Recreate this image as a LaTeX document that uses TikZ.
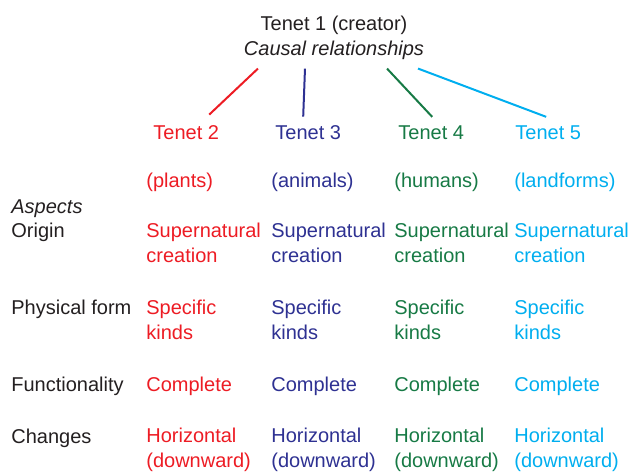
\documentclass[tikz,border=0pt]{standalone}
\usepackage{fontspec}
\setmainfont{Liberation Sans}
\usetikzlibrary{calc}
\definecolor{ink}{HTML}{231F20}
\definecolor{tred}{HTML}{ED1C24}
\definecolor{tblue}{HTML}{2E3192}
\definecolor{tgreen}{HTML}{177A45}
\definecolor{tcyan}{HTML}{00AEEF}
\tikzset{
  txt/.style={inner sep=0pt,align=left,anchor=base west,text=ink,font=\fontsize{10}{12.5}\selectfont},
  head/.style={txt,align=center,anchor=base},
  link/.style={line width=1pt},
}
\begin{document}
\begin{tikzpicture}[x=0.5pt,y=-0.5pt]
  \useasboundingbox (0,0) rectangle (629,472);
  % ── the creator ── (base = last line)
  \node[head] (top) at (334,55) {Tenet 1 (creator)\\\textit{Causal relationships}};

  % ── aspect labels ──
  \node[txt] (asp) at (11,213) {\textit{Aspects}};
  \foreach \a/\y/\lbl in {orig/237/Origin,form/314/Physical form,func/391/Functionality,chg/443/Changes}
    \node[txt] (\a) at (11,\y) {\lbl};

  % ── the four tenets ──
  \foreach \n/\cx/\hx/\col/\grp in {2/146/153/tred/plants,3/271/275/tblue/animals,4/394/398/tgreen/humans,5/514/515/tcyan/landforms} {
    \node[txt,text=\col] (t\n) at (\hx,139) {Tenet \n};
    \node[txt,text=\col] (g\n) at (\cx,187) {(\grp)};
    \node[txt,text=\col] (o\n) at (\cx,262) {Supernatural\\creation};
    \node[txt,text=\col] (f\n) at (\cx,339) {Specific\\kinds};
    \node[txt,text=\col] (c\n) at (\cx,391) {Complete};
    \node[txt,text=\col] (h\n) at (\cx,467) {Horizontal\\(downward)};
  }

  % ── links from tenet 1 ──
  \draw[link,tred]   ($(top.south)+(-76,9)$) -- ($(t2.north)+(23,-10)$);
  \draw[link,tblue]  ($(top.south)+(-29,9)$) -- ($(t3.north)+(-5,-8)$);
  \draw[link,tgreen] ($(top.south)+(53,9)$)  -- ($(t4.north)+(1,-8)$);
  \draw[link,tcyan]  ($(top.south)+(84,9)$)  -- ($(t5.north)+(-2,-8)$);
\end{tikzpicture}
\end{document}
